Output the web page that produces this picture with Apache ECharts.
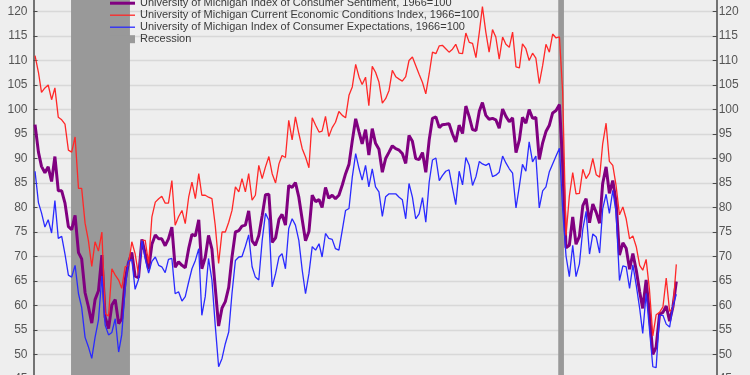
<!DOCTYPE html>
<html>
<head>
<meta charset="utf-8">
<script src="https://cdn.jsdelivr.net/npm/echarts@6/dist/echarts.min.js"></script>
<style>
html,body{margin:0;padding:0;background:#eeeeee;overflow:hidden;width:750px;height:375px;}
#chart{position:absolute;left:0;top:-13.5px;width:750px;height:392.3px;}
</style>
</head>
<body>
<div id="chart"></div>
<script>
// Monthly data, Jan 2007 .. Jan 2023
const startYear = 2007;
const sentiment = [
 96.9, 91.3, 88.4, 87.1, 88.3, 85.3, 90.4, 83.4, 83.4, 80.9, 76.1, 75.5,
 78.4, 70.8, 69.5, 62.6, 59.8, 56.4, 61.2, 63.0, 70.3, 57.6, 55.3, 60.1,
 61.2, 56.3, 57.3, 65.1, 68.7, 70.8, 66.0, 65.7, 73.5, 70.6, 67.4, 72.5,
 74.4, 73.6, 73.6, 72.2, 73.6, 76.0, 67.8, 68.9, 68.2, 67.7, 71.6, 74.5,
 74.2, 77.5, 67.5, 69.8, 74.3, 71.5, 63.7, 55.8, 59.5, 60.8, 63.7, 69.9,
 75.0, 75.3, 76.2, 76.4, 79.3, 73.2, 72.3, 74.3, 78.3, 82.6, 82.7, 72.9,
 73.8, 77.6, 78.6, 76.4, 84.5, 84.1, 85.1, 82.1, 77.5, 73.2, 75.1, 82.5,
 81.2, 81.6, 80.0, 84.1, 81.9, 82.5, 81.8, 82.5, 84.6, 86.9, 88.8, 93.6,
 98.1, 95.4, 93.0, 95.9, 90.7, 96.1, 93.1, 91.9, 87.2, 90.0, 91.3, 92.6,
 92.0, 91.7, 91.0, 89.0, 94.7, 93.5, 90.0, 89.8, 91.2, 87.2, 93.8, 98.2,
 98.5, 96.3, 96.9, 97.0, 97.1, 95.0, 93.4, 96.8, 95.1, 100.7, 98.5, 95.9,
 95.7, 99.7, 101.4, 98.8, 98.0, 98.2, 97.9, 96.2, 100.1, 98.6, 97.5, 98.3,
 91.2, 93.8, 98.4, 97.2, 100.0, 98.2, 98.4, 89.8, 93.2, 95.5, 96.8, 99.3,
 99.8, 101.0, 89.1, 71.8, 72.3, 78.1, 72.5, 74.1, 80.4, 81.8, 76.9, 80.7,
 79.0, 76.8, 84.9, 88.3, 82.9, 85.5, 81.2, 70.3, 72.8, 71.7, 67.4, 70.6,
 67.2, 62.8, 59.4, 65.2, 58.4, 50.0, 51.5, 58.2, 58.6, 59.9, 56.8, 59.7,
 64.9
];
const currentConditions = [
 111.0, 107.6, 103.5, 104.4, 105.0, 102.0, 104.4, 98.4, 97.9, 97.0, 91.7, 91.3,
 94.4, 83.9, 83.9, 76.8, 73.3, 68.0, 73.0, 71.1, 75.0, 58.4, 57.8, 67.5,
 66.2, 65.2, 63.5, 67.9, 68.2, 73.0, 70.6, 66.2, 73.3, 73.3, 68.6, 78.1,
 81.1, 81.8, 82.3, 80.9, 80.9, 85.5, 76.4, 78.1, 79.4, 76.7, 82.1, 85.2,
 81.8, 86.9, 82.5, 82.5, 82.1, 81.8, 76.4, 68.6, 75.0, 75.0, 77.0, 79.4,
 84.2, 83.2, 85.9, 83.2, 86.9, 81.5, 82.5, 88.6, 85.9, 88.3, 90.4, 86.9,
 85.0, 88.9, 90.6, 90.2, 97.8, 93.8, 98.5, 95.1, 92.0, 90.3, 88.1, 98.3,
 96.8, 95.4, 95.6, 98.6, 94.5, 96.3, 97.4, 99.6, 98.8, 98.3, 102.9, 104.6,
 109.2, 106.6, 105.1, 106.6, 100.8, 108.8, 107.6, 105.6, 101.3, 102.2, 103.9, 108.0,
 106.7, 106.2, 105.8, 106.7, 110.0, 110.7, 109.0, 107.2, 105.5, 103.2, 107.3, 111.7,
 111.4, 113.0, 113.1, 112.4, 111.7, 112.3, 113.3, 111.5, 111.4, 115.6, 113.7, 113.5,
 110.6, 115.8, 121.0, 115.8, 111.7, 116.3, 114.8, 110.3, 114.8, 113.3, 112.7, 115.8,
 108.7, 108.5, 113.4, 112.4, 110.0, 111.5, 110.5, 105.3, 109.0, 113.3, 111.7, 115.4,
 114.6, 114.8, 103.7, 74.3, 82.3, 87.1, 82.8, 82.9, 87.8, 85.9, 87.0, 90.0,
 86.7, 86.2, 93.0, 97.2, 89.4, 88.6, 84.5, 78.5, 80.1, 77.7, 73.6, 74.2,
 72.0, 68.2, 67.2, 69.4, 63.3, 53.8, 58.1, 58.6, 59.7, 65.6, 58.8, 59.4,
 68.4
];
const expectations = [
 87.4, 81.0, 78.9, 76.0, 77.5, 74.8, 81.4, 73.7, 74.1, 70.5, 66.2, 65.8,
 68.2, 62.4, 59.6, 53.5, 51.6, 49.2, 53.5, 57.0, 66.0, 56.0, 54.0, 54.5,
 57.3, 50.5, 54.0, 63.4, 69.0, 69.4, 63.3, 65.3, 73.3, 69.5, 66.6, 69.0,
 69.9, 68.2, 67.9, 66.7, 69.4, 69.6, 62.4, 62.8, 60.9, 61.8, 64.8, 67.5,
 69.2, 71.6, 58.0, 61.8, 69.6, 65.2, 56.0, 47.5, 49.2, 52.2, 54.6, 62.5,
 69.2, 69.9, 70.0, 72.1, 74.4, 67.9, 65.8, 65.2, 73.3, 78.8, 77.4, 63.8,
 66.5, 69.9, 70.6, 67.5, 75.7, 77.7, 76.4, 73.3, 67.2, 62.4, 66.5, 72.0,
 71.3, 72.6, 69.9, 74.7, 73.7, 73.5, 71.6, 71.3, 75.4, 79.4, 79.8, 86.2,
 91.0, 87.9, 85.6, 88.6, 84.2, 87.9, 84.2, 83.2, 78.2, 82.2, 82.8, 82.8,
 82.8, 82.1, 81.6, 77.7, 84.9, 82.1, 77.7, 78.7, 82.0, 77.0, 85.2, 89.7,
 90.1, 85.5, 86.5, 87.4, 87.7, 84.0, 80.6, 87.4, 84.6, 90.2, 88.6, 84.5,
 86.3, 89.4, 88.9, 88.6, 89.0, 86.3, 86.6, 87.2, 90.5, 89.1, 87.9, 87.0,
 79.9, 84.4, 88.8, 87.4, 93.4, 89.3, 90.5, 79.9, 83.4, 84.2, 87.3, 88.9,
 90.5, 92.1, 79.7, 70.1, 65.9, 72.3, 65.9, 68.5, 75.6, 79.2, 70.5, 74.6,
 74.0, 70.7, 79.7, 82.7, 78.8, 83.5, 79.0, 65.1, 68.1, 67.9, 63.5, 68.3,
 64.1, 59.4, 54.3, 62.5, 55.2, 47.5, 47.3, 58.0, 58.0, 56.2, 55.6, 59.9,
 62.3
];
const recessions = [
 ['2007-11-25', '2009-05-15'],
 ['2020-01-21', '2020-03-13']
];
const seriesNames = [
 'University of Michigan Index of Consumer Sentiment, 1966=100',
 'University of Michigan Current Economic Conditions Index, 1966=100',
 'University of Michigan Index of Consumer Expectations, 1966=100',
 'Recession'
];
const yTicks = {min: 45, max: 125, interval: 5};

function pad(n){return n < 10 ? '0' + n : '' + n;}
const dates = sentiment.map(function(_, k){
  const y = startYear + Math.floor(k / 12);
  const m = (k % 12) + 1;
  return y + '-' + pad(m) + '-01';
});
function pairs(vals){ return vals.map(function(v, k){ return [dates[k], v]; }); }

const font = 'Liberation Sans, Arial, sans-serif';
const axisColor = '#4a4a4a';

const chart = echarts.init(document.getElementById('chart'), null, {renderer: 'canvas'});
chart.setOption({
  backgroundColor: '#eeeeee',
  animation: false,
  textStyle: {fontFamily: font},
  grid: {left: 33.5, right: 33.3, top: 0, bottom: 0, containLabel: false, outerBoundsMode: 'none'},
  legend: {
    orient: 'vertical',
    left: 110,
    top: 10.2,
    padding: 0,
    itemGap: 0,
    itemWidth: 25,
    itemHeight: 8,
    selectedMode: false,
    textStyle: {fontSize: 11, color: '#3a3a3a', fontFamily: font, lineHeight: 12},
    data: [
      {name: seriesNames[0], icon: 'path://M0,0H25V3H0Z'},
      {name: seriesNames[1], icon: 'path://M0,0H25V1.3H0Z'},
      {name: seriesNames[2], icon: 'path://M0,0H25V1.3H0Z'},
      {name: seriesNames[3], icon: 'rect'}
    ]
  },
  xAxis: {
    type: 'time',
    min: '2006-12-18',
    max: '2024-01-04',
    axisLine: {show: false},
    axisTick: {show: false},
    axisLabel: {show: false},
    splitLine: {show: false}
  },
  yAxis: [
    {
      type: 'value', position: 'left',
      min: yTicks.min, max: yTicks.max, interval: yTicks.interval,
      axisLine: {show: true, lineStyle: {color: axisColor, width: 1.5}},
      axisTick: {show: true, inside: true, length: 4, lineStyle: {color: axisColor, width: 1}},
      axisLabel: {color: '#555555', fontSize: 12, fontFamily: font, margin: 6},
      splitLine: {show: true, lineStyle: {color: '#d8d8d8', width: 1.3}}
    },
    {
      type: 'value', position: 'right',
      min: yTicks.min, max: yTicks.max, interval: yTicks.interval,
      axisLine: {show: true, lineStyle: {color: axisColor, width: 1.5}},
      axisTick: {show: true, inside: true, length: 4, lineStyle: {color: axisColor, width: 1}},
      axisLabel: {color: '#555555', fontSize: 12, fontFamily: font, margin: 2},
      splitLine: {show: false}
    }
  ],
  series: [
    {
      name: seriesNames[3], type: 'line', data: [], symbol: 'none',
      itemStyle: {color: '#999999'}, lineStyle: {width: 0},
      markArea: {
        silent: true,
        itemStyle: {color: '#999999', opacity: 1},
        data: recessions.map(function(r){ return [{xAxis: r[0]}, {xAxis: r[1]}]; })
      }
    },
    {
      name: seriesNames[0], type: 'line', data: pairs(sentiment), symbol: 'none',
      itemStyle: {color: '#800080'}, lineStyle: {color: '#800080', width: 3}
    },
    {
      name: seriesNames[1], type: 'line', data: pairs(currentConditions), symbol: 'none',
      itemStyle: {color: '#ff2828'}, lineStyle: {color: '#ff2828', width: 1.3}
    },
    {
      name: seriesNames[2], type: 'line', data: pairs(expectations), symbol: 'none',
      itemStyle: {color: '#2a2aff'}, lineStyle: {color: '#2a2aff', width: 1.3}
    }
  ]
});
</script>
</body>
</html>
